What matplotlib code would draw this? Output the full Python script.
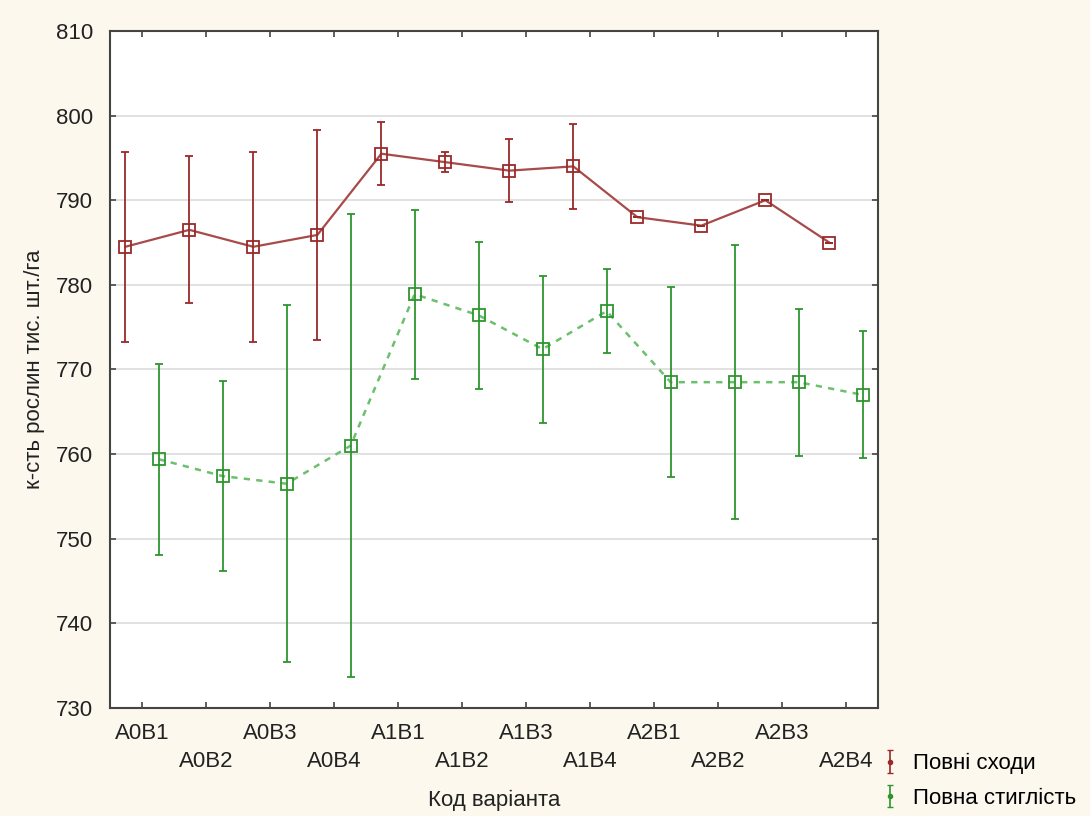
import numpy as np
import matplotlib
matplotlib.use("Agg")
import matplotlib.pyplot as plt

plt.rcParams['font.family'] = ['Liberation Sans', 'DejaVu Sans']

# --- data ---
codes = ["A0B1", "A0B2", "A0B3", "A0B4", "A1B1", "A1B2",
         "A1B3", "A1B4", "A2B1", "A2B2", "A2B3", "A2B4"]

emergence = [784.5, 786.5, 784.5, 785.9, 795.5, 794.5,
             793.5, 794.0, 788.0, 787.0, 790.0, 785.0]
emergence_err = [11.2, 8.7, 11.2, 12.4, 3.7, 1.2,
                 3.7, 5.0, 0.0, 0.0, 0.0, 0.0]

maturity = [759.4, 757.4, 756.5, 761.0, 778.9, 776.4,
            772.4, 776.9, 768.5, 768.5, 768.5, 767.0]
maturity_err = [11.3, 11.2, 21.1, 27.4, 10.0, 8.7,
                8.7, 5.0, 11.2, 16.2, 8.7, 7.5]

series_names = ["Повні сходи", "Повна стиглість"]

red = "#9a2a2a"
red_line = "#a84a4a"
green = "#2e962e"
green_line = "#6cbf6c"
bg = "#fdf8ee"
fs = 16

fig = plt.figure(figsize=(10.9, 8.16), dpi=100, facecolor=bg)
ax = fig.add_axes([0.1009, 0.1324, 0.7046, 0.8296])
ax.set_facecolor("white")

x = np.arange(len(codes))
off = 0.26

# red series: line, error bars, markers
ax.plot(x - off, emergence, color=red_line, lw=1.6, zorder=3)
ax.errorbar(x - off, emergence, yerr=emergence_err, fmt='none',
            ecolor=red, elinewidth=1.3, capsize=3, capthick=1.3, zorder=4)
ax.plot(x - off, emergence, ls='none', marker='s', ms=8, mfc='none',
        mec=red, mew=1.3, zorder=5)

# green series
ax.plot(x + off, maturity, color=green_line, lw=1.8, ls=(0, (2.5, 2.5)), zorder=3)
ax.errorbar(x + off, maturity, yerr=maturity_err, fmt='none',
            ecolor=green, elinewidth=1.3, capsize=3, capthick=1.3, zorder=4)
ax.plot(x + off, maturity, ls='none', marker='s', ms=8, mfc='none',
        mec=green, mew=1.3, zorder=5)

ax.set_xlim(-0.5, len(codes) - 0.5)
ax.set_ylim(730, 810)
ax.set_yticks(np.arange(730, 811, 10))
ax.set_xticks(x)
ax.set_xticklabels(codes)
ax.grid(axis='y', color='#dcdcdc', lw=1.2)
ax.set_axisbelow(True)

for s in ax.spines.values():
    s.set_color('#444444')
    s.set_linewidth(1.5)
ax.tick_params(direction='in', top=True, right=True, length=4,
               width=1.2, color='#444444', labelsize=fs, labelcolor='#222222')
ax.tick_params(axis='y', pad=12)

# stagger category labels in two rows
for i, t in enumerate(ax.xaxis.get_major_ticks()):
    t.set_pad(11 if i % 2 == 0 else 31)

ax.set_xlabel("Код варіанта", fontsize=fs, color='#222222')
ax.xaxis.set_label_coords(0.5, -0.121)
ax.set_ylabel("к-сть рослин тис. шт./га", fontsize=fs, color='#222222')
ax.yaxis.set_label_coords(-0.084, 0.5)

# legend proxies
h1 = ax.errorbar([np.nan], [np.nan], yerr=[1], fmt='o', ms=3, color=red,
                 capsize=2.5, elinewidth=1.2)
h2 = ax.errorbar([np.nan], [np.nan], yerr=[1], fmt='o', ms=3, color=green,
                 capsize=2.5, elinewidth=1.2)
fig.legend([h1, h2], series_names, loc='upper left',
           bbox_to_anchor=(0.807, 0.077), frameon=False, fontsize=fs,
           handlelength=0.9, handletextpad=0.6, labelspacing=0.6,
           borderaxespad=0, borderpad=0)

fig.savefig("out.png", dpi=100, facecolor=bg)
